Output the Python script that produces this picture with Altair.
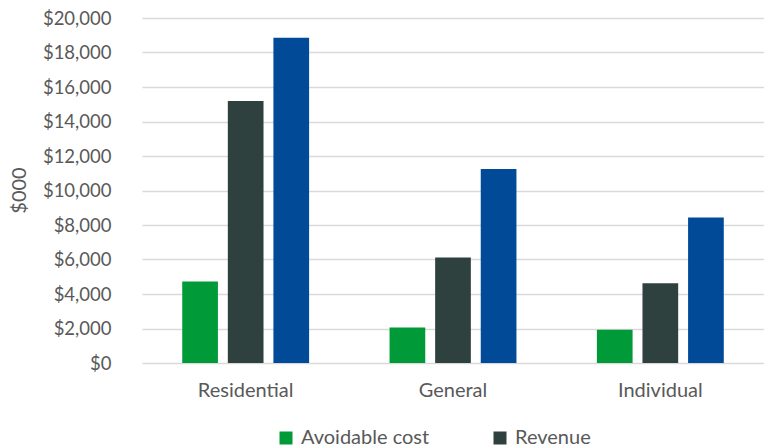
import altair as alt
import pandas as pd

categories = ["Residential", "General", "Individual"]
series = ["Avoidable cost", "Revenue", "Stand-alone cost"]
avoidable_cost = [4725, 2060, 1930]
revenue = [15190, 6110, 4630]
standalone_cost = [18850, 11250, 8430]
colors = ["#009A38", "#2F413E", "#004A97"]

rows = []
for i, c in enumerate(categories):
    for s, vals in zip(series, [avoidable_cost, revenue, standalone_cost]):
        rows.append({"category": c, "series": s, "value": vals[i]})
df = pd.DataFrame(rows)

FONT = "Lato"
GREY = "#595959"

chart = alt.Chart(df).mark_bar().encode(
    x=alt.X("category:N", sort=categories,
            scale=alt.Scale(paddingInner=0.388, paddingOuter=0.194),
            axis=alt.Axis(title=None, labelAngle=0, labelPadding=17, ticks=False,
                          domain=False, labelFontSize=20, labelColor=GREY, labelFont=FONT)),
    xOffset=alt.XOffset("series:N", sort=series,
                        scale=alt.Scale(paddingInner=0.217, paddingOuter=0)),
    y=alt.Y("value:Q", scale=alt.Scale(domain=[0, 20000]),
            axis=alt.Axis(title="$000", format="$,.0f", values=list(range(0, 20001, 2000)),
                          labelPadding=31, ticks=False, domain=False,
                          gridColor="#D9D9D9", gridWidth=1.3,
                          labelFontSize=18.5, labelColor=GREY, labelFont=FONT,
                          titleFontSize=20, titleColor=GREY, titleFont=FONT, titleFontWeight="normal",
                          titleX=-123, titleY=172, titleAngle=270, titleBaseline="middle", titleAlign="center")),
    color=alt.Color("series:N", sort=series,
                    scale=alt.Scale(domain=series, range=colors),
                    legend=alt.Legend(title=None, orient="none", legendX=134, legendY=410,
                                      direction="horizontal", columns=2, columnPadding=42, rowPadding=24,
                                      symbolType="square", symbolSize=169, symbolStrokeWidth=0,
                                      labelFontSize=20, labelColor=GREY, labelFont=FONT,
                                      labelOffset=5)),
).properties(
    width=622, height=345,
    autosize=alt.AutoSizeParams(type="none"),
    padding={"left": 142, "top": 18, "right": 0, "bottom": 84},
).configure_view(stroke=None)

chart.save("out.html", embed_options={"renderer": "svg", "actions": False})
